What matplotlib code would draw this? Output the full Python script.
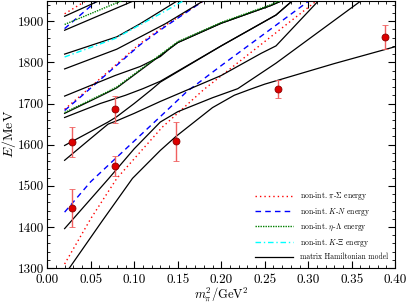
import matplotlib
matplotlib.use("Agg")
import matplotlib.pyplot as plt
from matplotlib.ticker import MultipleLocator, FormatStrFormatter

plt.rcParams['font.family'] = 'serif'
plt.rcParams['font.serif'] = ['cmr10', 'DejaVu Serif']
plt.rcParams['mathtext.fontset'] = 'cm'
plt.rcParams['axes.formatter.use_mathtext'] = True

# ---- data ----
# non-interacting pi-Sigma levels
piS1_x = [0.02, 0.05, 0.08, 0.132, 0.18, 0.269, 0.31]
piS1_E = [1310, 1420, 1518, 1642, 1734, 1882, 1950]
piS2_x = [0.02, 0.04, 0.107, 0.133, 0.18]
piS2_E = [1686, 1722, 1846, 1886, 1950]
piS3_x = [0.02, 0.045]
piS3_E = [1918, 1950]
# non-interacting K-N levels
KN1_x = [0.02, 0.05, 0.136, 0.16, 0.20, 0.25, 0.30, 0.31]
KN1_E = [1436, 1510, 1680, 1728, 1792, 1870, 1948, 1962]
KN2_x = [0.02, 0.04, 0.107, 0.133, 0.18]
KN2_E = [1683, 1719, 1843, 1883, 1950]
KN3_x = [0.02, 0.06]
KN3_E = [1882, 1955]
# non-interacting eta-Lambda levels
etaL1_x = [0.02, 0.063, 0.08, 0.136, 0.15, 0.20, 0.257, 0.27]
etaL1_E = [1678, 1722, 1740, 1828, 1850, 1897, 1940, 1952]
etaL2_x = [0.02, 0.086]
etaL2_E = [1892, 1950]
# non-interacting K-Xi level
KXi1_x = [0.02, 0.078, 0.13, 0.157]
KXi1_E = [1813, 1858, 1918, 1950]
# matrix Hamiltonian model levels
H0_x = [0.0254, 0.063, 0.098, 0.13, 0.148, 0.19, 0.215, 0.234, 0.25, 0.266, 0.33, 0.40]
H0_E = [1300, 1414, 1518, 1586, 1620, 1690, 1720, 1735, 1747, 1757, 1797, 1838]
H1_x = [0.02, 0.0708, 0.10, 0.13, 0.15, 0.19, 0.219, 0.246, 0.263, 0.361]
H1_E = [1396, 1518, 1590, 1655, 1680, 1714, 1736, 1774, 1798, 1950]
H2_x = [0.02, 0.05, 0.07, 0.08, 0.10, 0.13, 0.20, 0.246, 0.263, 0.312]
H2_E = [1562, 1615, 1650, 1658, 1676, 1705, 1768, 1822, 1840, 1950]
H3_x = [0.02, 0.05, 0.07, 0.08, 0.10, 0.11, 0.12, 0.13, 0.20, 0.263, 0.282]
H3_E = [1598, 1632, 1655, 1668, 1700, 1717, 1734, 1752, 1840, 1915, 1950]
H4_x = [0.02, 0.061, 0.09, 0.11, 0.13, 0.20, 0.263, 0.282]
H4_E = [1666, 1700, 1720, 1736, 1754, 1840, 1915, 1950]
H5_x = [0.02, 0.063, 0.08, 0.136, 0.15, 0.20, 0.257, 0.27]
H5_E = [1676, 1720, 1738, 1826, 1848, 1895, 1938, 1950]
H6_x = [0.02, 0.078, 0.107, 0.13, 0.14, 0.15, 0.20, 0.257, 0.27]
H6_E = [1718, 1768, 1790, 1814, 1832, 1848, 1895, 1938, 1950]
H7_x = [0.02, 0.08, 0.136, 0.18]
H7_E = [1784, 1832, 1894, 1950]
H8_x = [0.02, 0.08, 0.107, 0.15]
H8_E = [1820, 1862, 1894, 1950]
H9_x = [0.02, 0.05, 0.10]
H9_E = [1878, 1905, 1950]
H10_x = [0.02, 0.06]
H10_E = [1912, 1950]

# lattice results
lat_x = [0.028, 0.028, 0.078, 0.078, 0.148, 0.265, 0.388]
lat_E = [1446, 1607, 1548, 1686, 1608, 1736, 1862]
lat_err = [47, 36, 25, 33, 48, 22, 29]

fig = plt.figure(figsize=(4.07, 3.04), dpi=100)
ax = fig.add_axes([0.116, 0.118, 0.855, 0.880])

red_kw = dict(color='red', ls=(0, (1, 2.2)), lw=1.0)
blue_kw = dict(color='blue', ls=(0, (4, 3)), lw=1.0)
green_kw = dict(color='green', ls=(0, (1, 0.8)), lw=1.0)
cyan_kw = dict(color='cyan', ls=(0, (4, 2, 1, 2)), lw=1.0)
black_kw = dict(color='black', ls='-', lw=0.9)

for i, (x, E) in enumerate([(piS1_x, piS1_E), (piS2_x, piS2_E), (piS3_x, piS3_E)]):
    ax.plot(x, E, label=r'non-int. $\pi$-$\Sigma$ energy' if i == 0 else None, **red_kw)
for i, (x, E) in enumerate([(KN1_x, KN1_E), (KN2_x, KN2_E), (KN3_x, KN3_E)]):
    ax.plot(x, E, label=r'non-int. $K$-$N$ energy' if i == 0 else None, **blue_kw)
H_all = [(H0_x, H0_E), (H1_x, H1_E), (H2_x, H2_E), (H3_x, H3_E), (H4_x, H4_E),
         (H5_x, H5_E), (H6_x, H6_E), (H7_x, H7_E), (H8_x, H8_E), (H9_x, H9_E),
         (H10_x, H10_E)]
for i, (x, E) in enumerate(H_all):
    ax.plot(x, E, label='matrix Hamiltonian model' if i == 0 else None, zorder=2, **black_kw)
for i, (x, E) in enumerate([(etaL1_x, etaL1_E), (etaL2_x, etaL2_E)]):
    ax.plot(x, E, label=r'non-int. $\eta$-$\Lambda$ energy' if i == 0 else None, zorder=3,
            **green_kw)
ax.plot(KXi1_x, KXi1_E, label=r'non-int. $K$-$\Xi$ energy', zorder=3, **cyan_kw)

ax.errorbar(lat_x, lat_E, yerr=lat_err, fmt='o', ms=5, mfc='#dd0000', mec='#880000',
            mew=0.6, ecolor='#f06060', elinewidth=1.0, capsize=2.5, capthick=1.0, zorder=5)

ax.set_xlim(0, 0.40)
ax.set_ylim(1300, 1950)
ax.xaxis.set_major_locator(MultipleLocator(0.05))
ax.xaxis.set_minor_locator(MultipleLocator(0.01))
ax.yaxis.set_major_locator(MultipleLocator(100))
ax.yaxis.set_minor_locator(MultipleLocator(20))
ax.xaxis.set_major_formatter(FormatStrFormatter('%.2f'))
ax.yaxis.set_major_formatter(FormatStrFormatter('%d'))
ax.tick_params(which='both', direction='in', top=True, right=True, labelsize=9.5)
ax.tick_params(axis='y', pad=2.0)
ax.tick_params(axis='x', pad=4.0)
ax.tick_params(which='major', length=5, width=0.8)
ax.tick_params(which='minor', length=2.5, width=0.6)
for s in ax.spines.values():
    s.set_linewidth(0.8)

ax.set_xlabel(r'$m_\pi^2/\mathrm{GeV}^2$', fontsize=9)
ax.xaxis.set_label_coords(0.5, -0.064)
ax.set_ylabel(r'$E/\mathrm{MeV}$', fontsize=10, labelpad=0)

# legend in the reference order
handles, labels = ax.get_legend_handles_labels()
order = [r'non-int. $\pi$-$\Sigma$ energy', r'non-int. $K$-$N$ energy',
         r'non-int. $\eta$-$\Lambda$ energy', r'non-int. $K$-$\Xi$ energy',
         'matrix Hamiltonian model']
hmap = dict(zip(labels, handles))
ax.legend([hmap[l] for l in order], order, loc='lower right', fontsize=5.5, frameon=False,
          handlelength=5.0, labelspacing=0.5, borderaxespad=0.5, handletextpad=0.9)

fig.savefig('out.png', dpi=100)
